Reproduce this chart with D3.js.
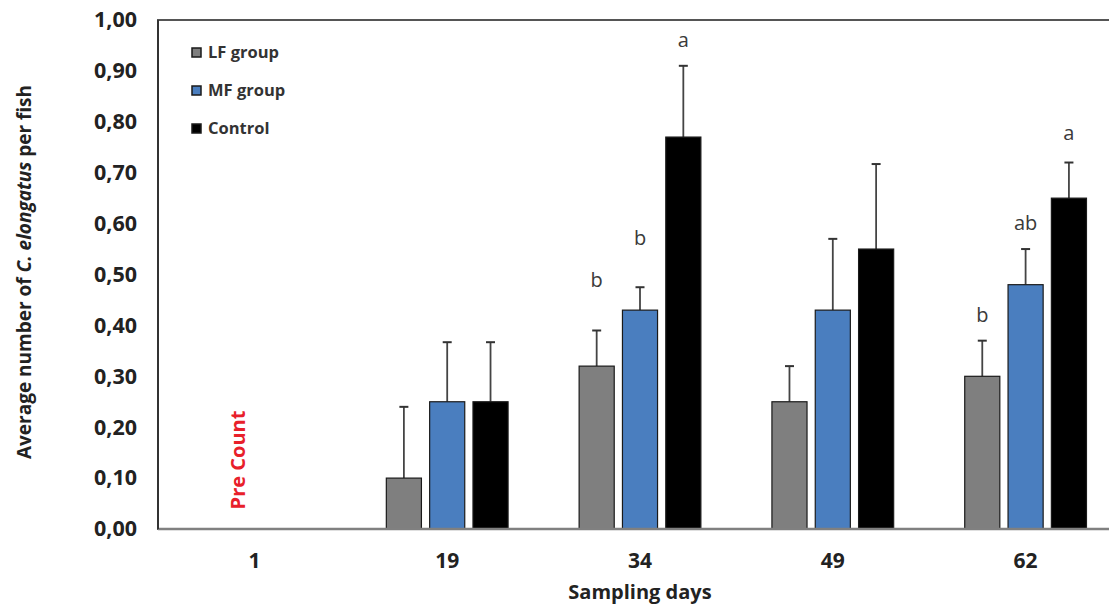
<!DOCTYPE html>
<html>
<head>
<meta charset="utf-8">
<script src="https://cdn.jsdelivr.net/npm/d3@7"></script>
<style>
  html, body { margin: 0; padding: 0; background: #fff; }
  svg { display: block; font-family: "Open Sans", Lato, sans-serif; }
</style>
</head>
<body>
<svg id="chart" width="1109" height="608"></svg>
<script>
// Sampling days on the x axis
const days = ["1", "19", "34", "49", "62"];
// Treatment groups
const groups = ["LF group", "MF group", "Control"];
const groupColors = ["#7f7f7f", "#4a7ebf", "#000000"];

// Mean number of C. elongatus per fish (day 1 = pre count, no bars)
const lfMeans      = [null, 0.10, 0.32, 0.25, 0.30];
const mfMeans      = [null, 0.25, 0.43, 0.43, 0.48];
const controlMeans = [null, 0.25, 0.77, 0.55, 0.65];

// Upper error (standard deviation)
const lfErrors      = [null, 0.14, 0.07, 0.07, 0.07];
const mfErrors      = [null, 0.117, 0.045, 0.14, 0.07];
const controlErrors = [null, 0.117, 0.14, 0.167, 0.07];

// Significance letters: day, group index, text, baseline height (axis units)
const sigDays   = ["34", "34", "34", "62", "62", "62"];
const sigGroups = [0, 1, 2, 0, 1, 2];
const sigTexts  = ["b", "b", "a", "b", "ab", "a"];
const sigLevels = [0.475, 0.558, 0.947, 0.407, 0.587, 0.764];

// Y tick values
const yTicks = [0, 0.1, 0.2, 0.3, 0.4, 0.5, 0.6, 0.7, 0.8, 0.9, 1.0];

const svg = d3.select("#chart");
const margin = { left: 158, top: 20, right: 1122, bottom: 529 };
const font = "'Open Sans', sans-serif";

const y = d3.scaleLinear().domain([0, 1]).range([margin.bottom, margin.top]);
const x0 = d3.scaleBand().domain(days).range([margin.left, margin.right]);
const x1 = d3.scaleBand().domain(d3.range(groups.length))
  .range([0, x0.bandwidth()]).paddingInner(0.19).paddingOuter(0.82);

const means = [lfMeans, mfMeans, controlMeans];
const errors = [lfErrors, mfErrors, controlErrors];

const records = [];
days.forEach((d, i) => {
  groups.forEach((g, j) => {
    if (means[j][i] != null) {
      records.push({ day: d, g: j, value: means[j][i], err: errors[j][i] });
    }
  });
});

// Plot-area frame
svg.append("rect")
  .attr("x", margin.left).attr("y", margin.top)
  .attr("width", margin.right - margin.left)
  .attr("height", margin.bottom - margin.top)
  .attr("fill", "none").attr("stroke", "#555").attr("stroke-width", 2);

// Error bars (drawn under the bars)
const eb = svg.append("g").attr("class", "errorbars");
records.forEach(r => {
  const cx = x0(r.day) + x1(r.g) + x1.bandwidth() / 2;
  eb.append("line")
    .attr("x1", cx).attr("x2", cx)
    .attr("y1", y(r.value)).attr("y2", y(r.value + r.err))
    .attr("stroke", "#444").attr("stroke-width", 1.8);
  eb.append("line")
    .attr("x1", cx - 4.5).attr("x2", cx + 4.5)
    .attr("y1", y(r.value + r.err)).attr("y2", y(r.value + r.err))
    .attr("stroke", "#333").attr("stroke-width", 2);
});

// Bars
svg.append("g").attr("class", "bars")
  .selectAll("rect").data(records).join("rect")
  .attr("x", r => x0(r.day) + x1(r.g))
  .attr("y", r => y(r.value))
  .attr("width", x1.bandwidth())
  .attr("height", r => y(0) - y(r.value))
  .attr("fill", r => groupColors[r.g])
  .attr("stroke", "#1a1a1a").attr("stroke-width", 1.2);

// Bottom axis line
svg.append("line")
  .attr("x1", margin.left).attr("x2", margin.right)
  .attr("y1", y(0)).attr("y2", y(0))
  .attr("stroke", "#808080").attr("stroke-width", 2.5);
// Left axis line
svg.append("line")
  .attr("x1", margin.left).attr("x2", margin.left)
  .attr("y1", margin.top).attr("y2", margin.bottom)
  .attr("stroke", "#333").attr("stroke-width", 2);

// Y axis tick labels
const yAxis = d3.axisLeft(y).tickValues(yTicks).tickSize(0).tickPadding(21)
  .tickFormat(v => d3.format(".2f")(v).replace(".", ","));
const gy = svg.append("g").attr("transform", `translate(${margin.left},0)`).call(yAxis);
gy.select(".domain").remove();
gy.selectAll("text")
  .attr("font-family", font)
  .attr("font-size", 21.5).attr("font-weight", "bold").attr("fill", "#222");

// X axis tick labels
const xAxis = d3.axisBottom(x0).tickSize(0).tickPadding(24);
const gx = svg.append("g").attr("transform", `translate(0,${margin.bottom})`).call(xAxis);
gx.select(".domain").remove();
gx.selectAll("text")
  .attr("font-family", font)
  .attr("font-size", 21).attr("font-weight", "bold").attr("fill", "#222");

// Axis titles
svg.append("text")
  .attr("x", (margin.left + 1122) / 2).attr("y", 599)
  .attr("text-anchor", "middle")
  .attr("font-family", font)
  .attr("font-size", 20).attr("font-weight", "bold").attr("fill", "#222")
  .text("Sampling days");

const yt = svg.append("text")
  .attr("transform", "translate(31,272) rotate(-90)")
  .attr("text-anchor", "middle")
  .attr("font-family", font)
  .attr("font-size", 19).attr("font-weight", "bold").attr("fill", "#222");
yt.append("tspan").text("Average number of ");
yt.append("tspan").attr("font-style", "italic").text("C. elongatus");
yt.append("tspan").text(" per fish");

// Pre-count note for day 1
svg.append("text")
  .attr("transform", `translate(${x0("1") + x0.bandwidth() / 2 - 9},460) rotate(-90)`)
  .attr("text-anchor", "middle")
  .attr("font-family", font)
  .attr("font-size", 20).attr("font-weight", "bold").attr("fill", "#e8202a")
  .text("Pre Count");

// Significance letters
sigTexts.forEach((t, i) => {
  const cx = x0(sigDays[i]) + x1(sigGroups[i]) + x1.bandwidth() / 2;
  svg.append("text")
    .attr("x", cx).attr("y", y(sigLevels[i]))
    .attr("text-anchor", "middle")
    .attr("font-family", font)
    .attr("font-size", 20).attr("fill", "#3a3a3a")
    .text(t);
});

// Legend
const legend = svg.append("g").attr("transform", "translate(192,48)");
groups.forEach((g, i) => {
  const row = legend.append("g").attr("transform", `translate(0,${i * 38})`);
  row.append("rect").attr("x", 0).attr("y", 0).attr("width", 9).attr("height", 9)
    .attr("fill", groupColors[i]).attr("stroke", "#1a1a1a").attr("stroke-width", 1.5);
  row.append("text").attr("x", 16).attr("y", 10)
    .attr("font-family", font)
    .attr("font-size", 16.5).attr("font-weight", "bold").attr("fill", "#333")
    .text(g);
});
</script>
</body>
</html>
